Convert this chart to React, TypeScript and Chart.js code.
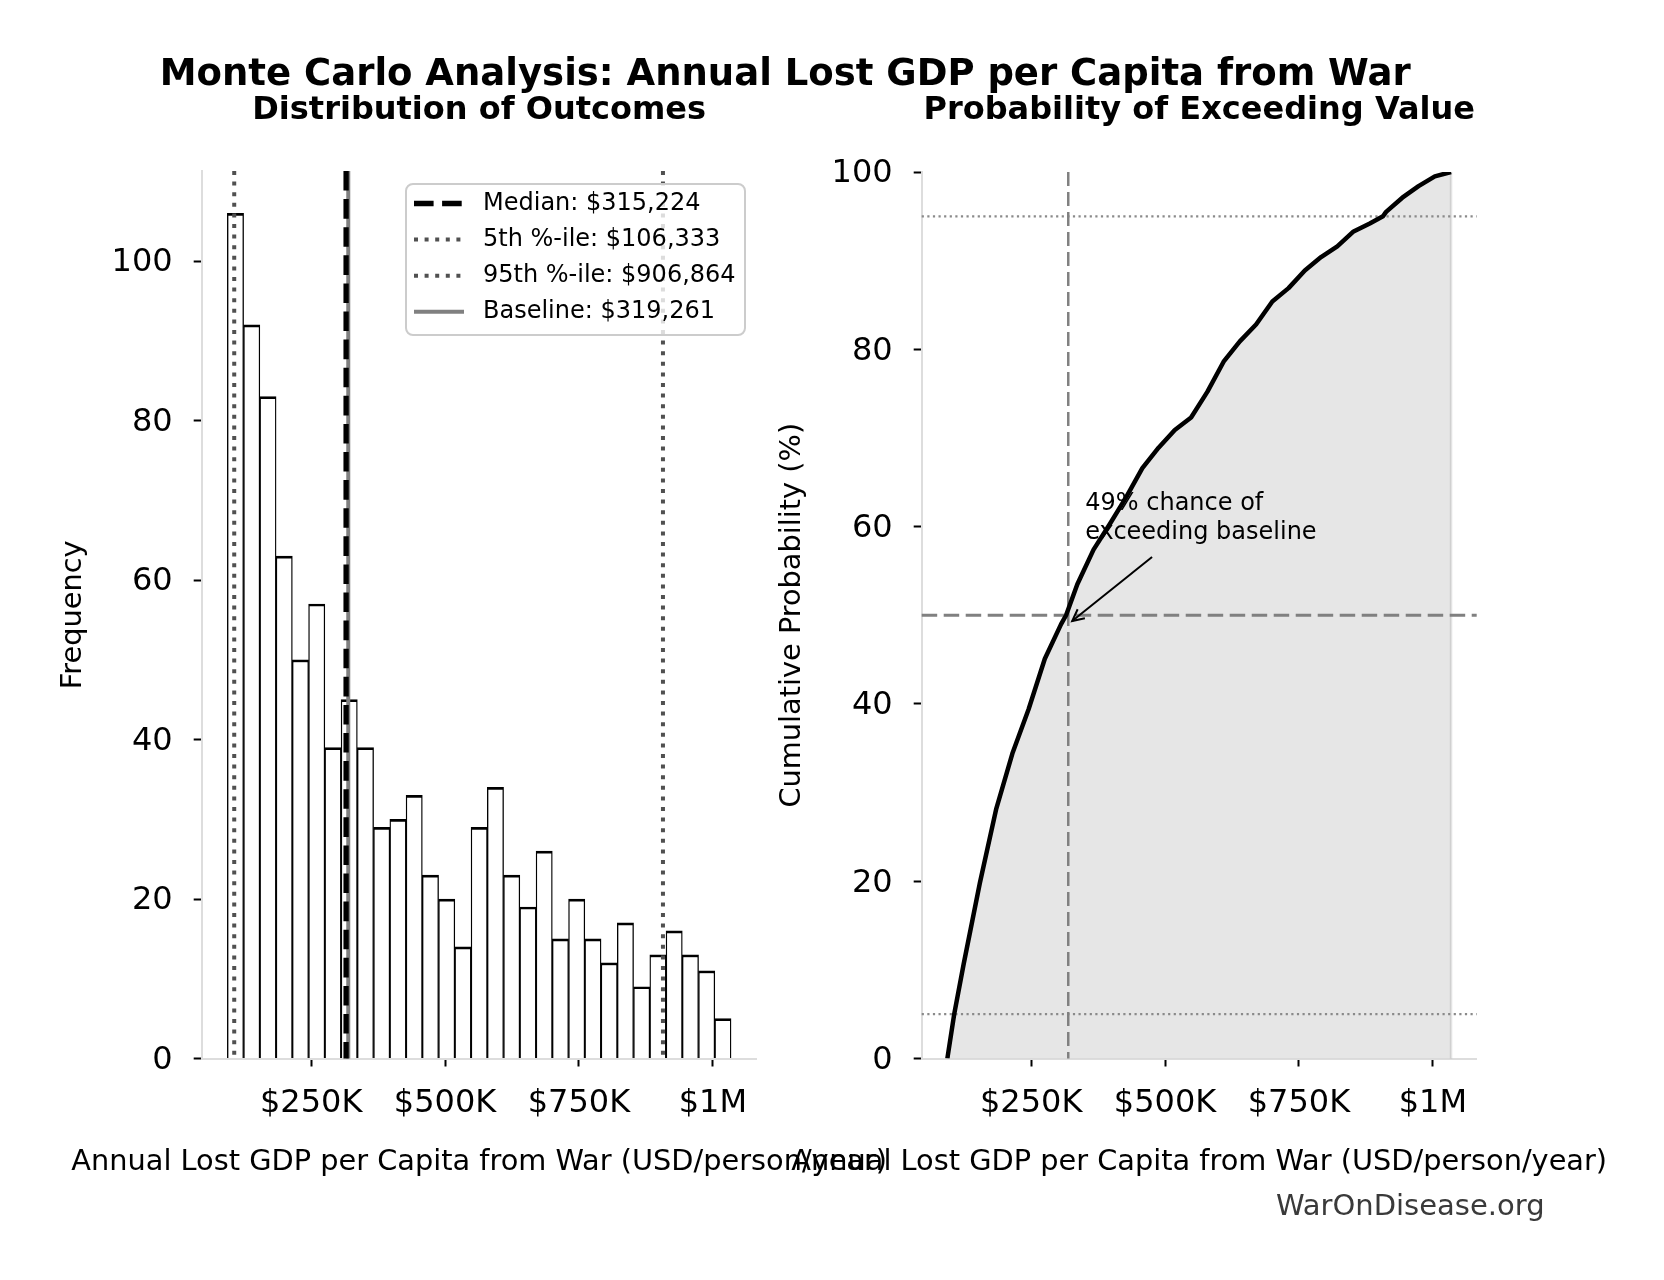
import React, { useEffect, useRef } from "react";
import { Chart, registerables } from "chart.js";

Chart.register(...registerables);

const FONT = "'DejaVu Sans', 'Liberation Sans', sans-serif";

// ---- Simulation results (1,000 draws) ----
const SAMPLE_MIN = 93500;
const SAMPLE_MAX = 1034000;
const BIN_COUNTS = [
  106, 92, 83, 63, 50, 57, 39, 45, 39, 29, 30, 33, 23, 20, 14, 29,
  34, 23, 19, 26, 15, 20, 15, 12, 17, 9, 13, 16, 13, 11, 5,
];

const MEDIAN = 315224;
const P5 = 106333;
const P95 = 906864;
const BASELINE = 319261;

// Empirical cumulative distribution (USD, percent of draws at or below)
const CDF_VALUES = [
  93500, 106300, 123800, 154200, 184500, 214900, 245200, 275500, 305900,
  315200, 336200, 366500, 396900, 427200, 457600, 487900, 518200, 548600,
  578900, 609300, 639600, 669900, 700300, 730600, 761000, 791300, 821600,
  852000, 882300, 906900, 912700, 943000, 973300, 1003700, 1034000,
];
const CDF_PCT = [
  0, 5, 10.6, 19.8, 28.1, 34.4, 39.4, 45.1, 49.0, 50.0, 53.5, 57.4, 60.3,
  63.3, 66.6, 68.9, 70.9, 72.3, 75.2, 78.6, 80.9, 82.8, 85.4, 86.9, 88.9,
  90.4, 91.6, 93.3, 94.2, 95.0, 95.5, 97.1, 98.4, 99.5, 100,
];

const EXCEED_PCT = 49;
const ANNOT_TEXT_X = 351000;
const ANNOT_TEXT_Y = 62.6;

// ---- Axes ----
const X_LIMITS = [45600, 1081900];
const X_TICKS = [250000, 500000, 750000, 1000000];
const X_TICK_LABELS = ["$250K", "$500K", "$750K", "$1M"];
const FREQ_MAX = 111.3;
const FREQ_TICKS = [0, 20, 40, 60, 80, 100];
const PCT_TICKS = [0, 20, 40, 60, 80, 100];
const PCT_BANDS = [5, 95];
const PCT_HALF = 50;

const X_TITLE = "Annual Lost GDP per Capita from War (USD/person/year)";

const fmtUSD = (v: number) => "$" + Math.round(v).toLocaleString("en-US");

const binWidth = (SAMPLE_MAX - SAMPLE_MIN) / BIN_COUNTS.length;
const histPoints = BIN_COUNTS.map((c, i) => ({
  x: SAMPLE_MIN + (i + 0.5) * binWidth,
  y: c,
}));
const cdfPoints = CDF_VALUES.map((v, i) => ({ x: v, y: CDF_PCT[i] }));

const LABEL_SIZE = 28.8;
const TICK_FONT = { family: FONT, size: 32 };
const LABEL_FONT = { family: FONT, size: LABEL_SIZE };

const gridOpts = {
  display: true,
  drawOnChartArea: false,
  drawTicks: true,
  tickLength: 8,
  tickWidth: 2,
  tickColor: "#000",
  color: "rgba(0,0,0,0)",
  offset: false,
};
const borderOpts = { display: true, color: "#dddddd", width: 2 };

function xScale(axisH: number) {
  return {
    type: "linear",
    min: X_LIMITS[0],
    max: X_LIMITS[1],
    offset: false,
    afterBuildTicks: (s: any) => {
      s.ticks = X_TICKS.map((v) => ({ value: v }));
    },
    afterFit: (s: any) => {
      s.height = axisH;
    },
    grid: gridOpts,
    border: borderOpts,
    ticks: {
      autoSkip: false,
      maxRotation: 0,
      minRotation: 0,
      padding: 18,
      color: "#000",
      font: TICK_FONT,
      callback: (v: any) => {
        const i = X_TICKS.indexOf(Number(v));
        return i >= 0 ? X_TICK_LABELS[i] : "";
      },
    },
    title: { display: false },
  };
}

function yScale(max: number, ticks: number[], axisW: number, title: string) {
  return {
    type: "linear",
    min: 0,
    max,
    afterBuildTicks: (s: any) => {
      s.ticks = ticks.map((v) => ({ value: v }));
    },
    afterFit: (s: any) => {
      s.width = axisW;
    },
    grid: gridOpts,
    border: borderOpts,
    ticks: {
      autoSkip: false,
      padding: 21,
      labelOffset: 2,
      color: "#000",
      font: TICK_FONT,
      callback: (v: any) => String(v),
    },
    title: {
      display: true,
      text: title,
      color: "#000",
      font: LABEL_FONT,
      padding: 0,
    },
  };
}

function strokeLine(
  ctx: CanvasRenderingContext2D,
  x1: number,
  y1: number,
  x2: number,
  y2: number,
  color: string,
  width: number,
  dash: number[] = []
) {
  ctx.save();
  ctx.beginPath();
  ctx.strokeStyle = color;
  ctx.lineWidth = width;
  ctx.setLineDash(dash);
  ctx.lineCap = "butt";
  ctx.moveTo(x1, y1);
  ctx.lineTo(x2, y2);
  ctx.stroke();
  ctx.restore();
}

// Horizontal axis title, drawn at full width (may run past the plot edges)
const xAxisTitle = {
  id: "xAxisTitle",
  afterDraw(chart: any) {
    const { ctx, chartArea: a } = chart;
    ctx.save();
    ctx.font = `${LABEL_SIZE}px ${FONT}`;
    ctx.fillStyle = "#000";
    ctx.textAlign = "center";
    ctx.textBaseline = "middle";
    ctx.fillText(X_TITLE, (a.left + a.right) / 2, a.bottom + 103.7);
    ctx.restore();
  },
};

const MEDIAN_STYLE = { color: "#000", width: 5.3, dash: [19.6, 8.5] };
const PCTL_STYLE = { color: "#505050", width: 4, dash: [4, 6.6] };
const BASE_STYLE = { color: "#808080", width: 4, dash: [] as number[] };

const LEGEND_ITEMS = [
  { label: `Median: ${fmtUSD(MEDIAN)}`, style: MEDIAN_STYLE },
  { label: `5th %-ile: ${fmtUSD(P5)}`, style: PCTL_STYLE },
  { label: `95th %-ile: ${fmtUSD(P95)}`, style: PCTL_STYLE },
  { label: `Baseline: ${fmtUSD(BASELINE)}`, style: BASE_STYLE },
];

// Vertical markers and legend for the histogram panel
const histMarkers = {
  id: "histMarkers",
  afterDatasetsDraw(chart: any) {
    const { ctx, chartArea: a, scales } = chart;
    const x = scales.x;
    const line = (v: number, s: any) => {
      const px = x.getPixelForValue(v);
      strokeLine(ctx, px, a.top, px, a.bottom, s.color, s.width, s.dash);
    };
    line(P5, PCTL_STYLE);
    line(P95, PCTL_STYLE);
    line(BASELINE, BASE_STYLE);
    line(MEDIAN, MEDIAN_STYLE);
  },
  afterDraw(chart: any) {
    const { ctx } = chart;
    const bx = 406,
      by = 184,
      bw = 339,
      bh = 151;
    ctx.save();
    ctx.beginPath();
    ctx.roundRect(bx, by, bw, bh, 7);
    ctx.fillStyle = "rgba(255,255,255,0.8)";
    ctx.fill();
    ctx.lineWidth = 2;
    ctx.strokeStyle = "#cccccc";
    ctx.stroke();
    ctx.font = `24px ${FONT}`;
    ctx.fillStyle = "#000";
    ctx.textAlign = "left";
    ctx.textBaseline = "middle";
    LEGEND_ITEMS.forEach((item, i) => {
      const cy = 203.5 + i * 36.1;
      strokeLine(ctx, 414, cy, 464, cy, item.style.color, item.style.width, item.style.dash);
      ctx.fillText(item.label, 483, cy);
    });
    ctx.restore();
  },
};

// Reference lines behind the cumulative curve, plus the annotation
const cdfGuides = {
  id: "cdfGuides",
  beforeDatasetsDraw(chart: any) {
    const { ctx, chartArea: a, scales } = chart;
    const { x, y } = scales;
    // right-hand edge of the shaded area
    const endX = x.getPixelForValue(CDF_VALUES[CDF_VALUES.length - 1]);
    strokeLine(ctx, endX, y.getPixelForValue(CDF_PCT[CDF_PCT.length - 1]), endX, a.bottom, "rgba(128,128,128,0.22)", 2.5);
    PCT_BANDS.forEach((p) => {
      const py = y.getPixelForValue(p);
      strokeLine(ctx, a.left, py, a.right, py, "#8a8a8a", 2.2, [2.2, 3.4]);
    });
    const hy = y.getPixelForValue(PCT_HALF);
    strokeLine(ctx, a.left, hy, a.right, hy, "#808080", 3, [15.5, 6.5]);
    const bx = x.getPixelForValue(BASELINE);
    strokeLine(ctx, bx, a.top, bx, a.bottom, "#808080", 2.5, [14, 6]);
  },
  afterDatasetsDraw(chart: any) {
    const { ctx, scales } = chart;
    const { x, y } = scales;
    const lines = [`${EXCEED_PCT}% chance of`, "exceeding baseline"];
    const lineH = 28.8;
    const tx = x.getPixelForValue(ANNOT_TEXT_X);
    const ty = y.getPixelForValue(ANNOT_TEXT_Y);
    ctx.save();
    ctx.font = `24px ${FONT}`;
    ctx.fillStyle = "#000";
    ctx.textAlign = "left";
    ctx.textBaseline = "middle";
    lines.forEach((l, i) => ctx.fillText(l, tx, ty + i * lineH));
    const wMax = Math.max(...lines.map((l) => ctx.measureText(l).width));
    const cx = tx + wMax / 2;
    const cy = ty + (lineH * (lines.length - 1)) / 2;
    const px = x.getPixelForValue(BASELINE);
    const py = y.getPixelForValue(EXCEED_PCT);
    const sy = ty + lineH * (lines.length - 1) + 24.7;
    const t = (sy - cy) / (py - cy);
    const sx = cx + t * (px - cx);
    const ang = Math.atan2(py - sy, px - sx);
    const ex = px - 5 * Math.cos(ang);
    const ey = py - 5 * Math.sin(ang);
    strokeLine(ctx, sx, sy, ex, ey, "#000", 2);
    const hl = 13;
    const spread = 0.46;
    ctx.beginPath();
    ctx.strokeStyle = "#000";
    ctx.lineWidth = 2;
    ctx.moveTo(ex - hl * Math.cos(ang - spread), ey - hl * Math.sin(ang - spread));
    ctx.lineTo(ex, ey);
    ctx.lineTo(ex - hl * Math.cos(ang + spread), ey - hl * Math.sin(ang + spread));
    ctx.stroke();
    ctx.restore();
  },
};

function histConfig(): any {
  return {
    type: "bar",
    data: {
      datasets: [
        {
          data: histPoints,
          backgroundColor: "#ffffff",
          borderColor: "#000000",
          borderWidth: { top: 2.7, left: 1.35, right: 1.35, bottom: 0 },
          borderSkipped: "start",
          barPercentage: 1,
          categoryPercentage: 1,
        },
      ],
    },
    options: {
      responsive: false,
      animation: false,
      devicePixelRatio: 1,
      events: [],
      layout: { padding: { left: 56, top: 171, right: 907.3, bottom: 106.2 } },
      plugins: { legend: { display: false }, tooltip: { enabled: false } },
      scales: {
        x: xScale(115.3),
        y: yScale(FREQ_MAX, FREQ_TICKS, 145.7, "Frequency"),
      },
    },
    plugins: [histMarkers, xAxisTitle],
  };
}

function cdfConfig(): any {
  return {
    type: "line",
    data: {
      datasets: [
        {
          data: cdfPoints,
          borderColor: "#000000",
          borderWidth: 4.5,
          borderJoinStyle: "round",
          pointRadius: 0,
          tension: 0,
          fill: "origin",
          backgroundColor: "rgba(128,128,128,0.2)",
        },
      ],
    },
    options: {
      responsive: false,
      animation: false,
      devicePixelRatio: 1,
      events: [],
      layout: { padding: { left: 775.7, top: 172, right: 187.3, bottom: 106.2 } },
      plugins: {
        legend: { display: false },
        tooltip: { enabled: false },
        filler: { drawTime: "beforeDatasetsDraw" },
      },
      scales: {
        x: xScale(115.3),
        y: yScale(100, PCT_TICKS, 146, "Cumulative Probability (%)"),
      },
    },
    plugins: [cdfGuides, xAxisTitle],
  };
}

const textBase: React.CSSProperties = {
  position: "absolute",
  whiteSpace: "nowrap",
  lineHeight: 1,
  fontFamily: FONT,
  color: "#000",
  margin: 0,
};

export default function App() {
  const leftRef = useRef<HTMLCanvasElement>(null);
  const rightRef = useRef<HTMLCanvasElement>(null);

  useEffect(() => {
    const left = new Chart(leftRef.current as HTMLCanvasElement, histConfig());
    const right = new Chart(rightRef.current as HTMLCanvasElement, cdfConfig());
    return () => {
      left.destroy();
      right.destroy();
    };
  }, []);

  return (
    <div
      style={{
        position: "absolute",
        left: 0,
        top: 0,
        width: 1664,
        height: 1280,
        background: "#ffffff",
        overflow: "hidden",
      }}
    >
      <canvas
        ref={leftRef}
        width={1664}
        height={1280}
        style={{ position: "absolute", left: 0, top: 0, width: 1664, height: 1280 }}
      />
      <canvas
        ref={rightRef}
        width={1664}
        height={1280}
        style={{ position: "absolute", left: 0, top: 0, width: 1664, height: 1280 }}
      />
      <div
        style={{
          ...textBase,
          left: 785.3,
          top: 54,
          transform: "translateX(-50%)",
          fontSize: 37,
          fontWeight: "bold",
        }}
      >
        Monte Carlo Analysis: Annual Lost GDP per Capita from War
      </div>
      <div
        style={{
          ...textBase,
          left: 479.2,
          top: 92,
          transform: "translateX(-50%)",
          fontSize: 32,
          fontWeight: "bold",
        }}
      >
        Distribution of Outcomes
      </div>
      <div
        style={{
          ...textBase,
          left: 1199.2,
          top: 92,
          transform: "translateX(-50%)",
          fontSize: 32,
          fontWeight: "bold",
        }}
      >
        Probability of Exceeding Value
      </div>
      <div
        style={{
          ...textBase,
          left: 1276,
          top: 1190.5,
          fontSize: 29,
          color: "#3a3a3a",
        }}
      >
        WarOnDisease.org
      </div>
    </div>
  );
}
